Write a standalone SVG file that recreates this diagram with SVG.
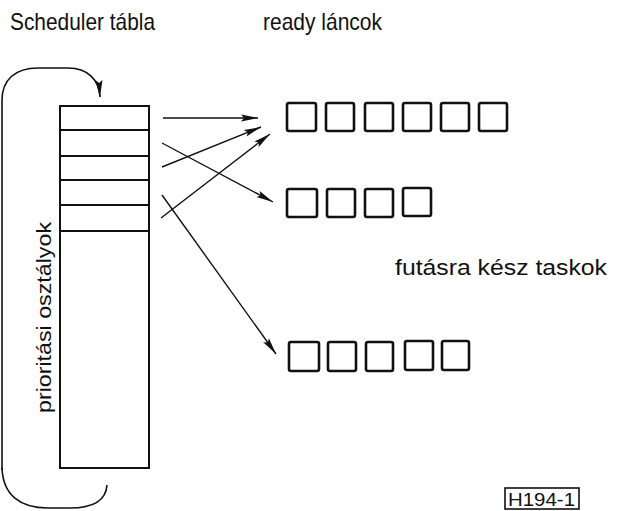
<svg xmlns="http://www.w3.org/2000/svg" width="620" height="511" viewBox="0 0 620 511">
<style>
text{font-family:"Liberation Sans","DejaVu Sans",sans-serif;fill:#111}
.tbl{fill:none;stroke:#111;stroke-width:2}
.box{fill:#fff;stroke:#111;stroke-width:2.6}
.arr{fill:none;stroke:#111;stroke-width:1.4;marker-end:url(#ah)}
.brk{fill:none;stroke:#111;stroke-width:1.6}
</style>
<defs>
<marker id="ah" markerUnits="userSpaceOnUse" markerWidth="18" markerHeight="8" refX="17" refY="4" orient="auto" viewBox="0 0 18 8">
<path d="M0,0.5 L17,4 L0,7.5 L3,4 z" fill="#111"/>
</marker>
</defs>
<rect width="620" height="511" fill="#fff"/>
<g id="titles">
<text x="10" y="30" font-size="24" textLength="145" lengthAdjust="spacingAndGlyphs">Scheduler tábla</text>
<text x="263" y="30" font-size="24" textLength="119" lengthAdjust="spacingAndGlyphs">ready láncok</text>
<text x="395" y="275" font-size="22" textLength="212" lengthAdjust="spacingAndGlyphs">futásra kész taskok</text>
</g>
<g id="scheduler-table">
<rect class="tbl" x="60" y="106" width="89" height="362"/>
<line class="tbl" x1="60" y1="130" x2="149" y2="130"/>
<line class="tbl" x1="60" y1="156" x2="149" y2="156"/>
<line class="tbl" x1="60" y1="180" x2="149" y2="180"/>
<line class="tbl" x1="60" y1="205" x2="149" y2="205"/>
<line class="tbl" x1="60" y1="231" x2="149" y2="231"/>
</g>
<g id="priority-bracket">
<path class="brk" d="M2,470 L2,100 C2,80 15,68 38,68 L68,68 C88,68 99,80 100,97" marker-end="url(#ah)"/>
<path class="brk" d="M2,468 C3,495 20,508 48,508 L70,508 C95,508 106,500 107,485"/>
<text transform="translate(51,413) rotate(-90)" font-size="21" textLength="191" lengthAdjust="spacingAndGlyphs">prioritási osztályok</text>
</g>
<g id="connectors">
<line class="arr" x1="163" y1="118" x2="258" y2="118"/>
<line class="arr" x1="162" y1="167" x2="261" y2="127"/>
<line class="arr" x1="161" y1="218" x2="270" y2="134"/>
<line class="arr" x1="162" y1="143" x2="273" y2="202"/>
<line class="arr" x1="162" y1="195" x2="276" y2="354"/>
</g>
<g id="ready-chain-1">
<rect class="box" x="287" y="103" width="29" height="28" rx="2"/>
<rect class="box" x="326" y="103" width="28" height="28" rx="2"/>
<rect class="box" x="365" y="103" width="28" height="28" rx="2"/>
<rect class="box" x="403" y="103" width="28" height="28" rx="2"/>
<rect class="box" x="441" y="103" width="28" height="28" rx="2"/>
<rect class="box" x="479" y="103" width="28" height="28" rx="2"/>
</g>
<g id="ready-chain-2">
<rect class="box" x="287" y="189" width="30" height="28" rx="2"/>
<rect class="box" x="327" y="189" width="28" height="28" rx="2"/>
<rect class="box" x="365" y="189" width="28" height="28" rx="2"/>
<rect class="box" x="403" y="188" width="28" height="28" rx="2"/>
</g>
<g id="ready-chain-3">
<rect class="box" x="289" y="342" width="30" height="29" rx="2"/>
<rect class="box" x="328" y="342" width="28" height="29" rx="2"/>
<rect class="box" x="366" y="342" width="27" height="29" rx="2"/>
<rect class="box" x="405" y="341" width="28" height="29" rx="2"/>
<rect class="box" x="442" y="341" width="27" height="29" rx="2"/>
</g>
<g id="figure-label">
<rect x="505" y="488" width="74" height="21" fill="none" stroke="#111" stroke-width="1.6"/>
<text x="508" y="506" font-size="19" textLength="67" lengthAdjust="spacingAndGlyphs">H194-1</text>
</g>
</svg>
